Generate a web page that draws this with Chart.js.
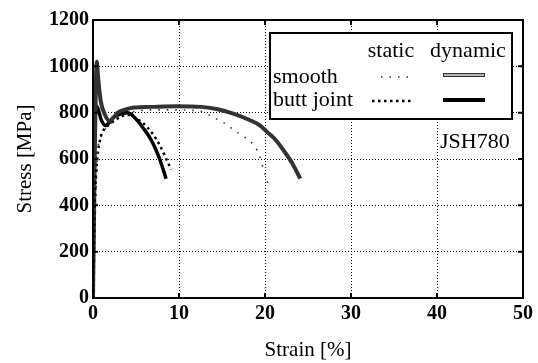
<!DOCTYPE html>
<html>
<head>
<meta charset="utf-8">
<script src="https://cdn.jsdelivr.net/npm/chart.js@4"></script>
<style>
  html, body { margin: 0; padding: 0; background: #fff; }
  #wrap { width: 538px; height: 363px; }
</style>
</head>
<body>
<div id="wrap"><canvas id="chart" width="538" height="363"></canvas></div>
<script>
// strain [%] and stress [MPa]
const smoothDynStrain = [0, 0.2, 0.35, 0.45, 0.6, 0.9, 1.4, 1.9, 2.4, 2.9, 3.9, 4.8, 6.8, 9.7, 12.6, 14.5, 16.4, 18.4, 19.4, 20.3, 21.3, 22.2, 23.2, 24.1];
const smoothDynStress = [0, 600, 950, 1020, 950, 850, 790, 765, 780, 800, 815, 822, 825, 828, 825, 815, 795, 765, 745, 715, 680, 635, 580, 515];

const smoothStaStrain = [0, 0.3, 0.6, 1, 1.45, 1.95, 2.9, 3.9, 4.8, 6.8, 9.7, 11.6, 12.6, 13.5, 14.5, 15.5, 16.4, 17.4, 18.4, 19.3, 19.8, 20.3, 20.5];
const smoothStaStress = [0, 400, 650, 700, 730, 750, 780, 795, 805, 812, 812, 810, 805, 790, 770, 750, 725, 700, 672, 620, 560, 500, 480];

const buttDynStrain = [0, 0.1, 0.2, 0.3, 0.55, 0.95, 1.45, 1.95, 2.4, 2.9, 3.9, 4.35, 4.8, 5.3, 5.8, 6.3, 6.8, 7.25, 7.75, 8.2, 8.5];
const buttDynStress = [0, 400, 700, 830, 820, 770, 745, 760, 780, 790, 800, 795, 780, 760, 735, 710, 680, 645, 600, 550, 515];

const buttStaStrain = [0, 0.2, 0.5, 0.8, 1.15, 1.95, 2.9, 3.9, 4.35, 4.8, 5.8, 6.8, 7.75, 8.4, 8.9, 9.1];
const buttStaStress = [0, 400, 600, 680, 720, 750, 775, 790, 790, 780, 755, 715, 660, 610, 570, 555];

const xTicks = [0, 10, 20, 30, 40, 50];
const yTicks = [0, 200, 400, 600, 800, 1000, 1200];

const pts = (xs, ys) => xs.map((x, i) => ({ x: x, y: ys[i] }));
const serif = "'Liberation Serif', 'DejaVu Serif', serif";

const line = (data, color, width, dash) => ({
    data: data,
    borderColor: color,
    borderWidth: width,
    borderDash: dash || [],
    pointRadius: 0,
    fill: false,
    cubicInterpolationMode: "monotone"
});

// frame, inward ticks, legend box and label
const decor = {
    id: "decor",
    afterDraw(chart) {
        const ctx = chart.ctx;
        const a = chart.chartArea;
        const xs = chart.scales.x, ys = chart.scales.y;
        ctx.save();
        ctx.strokeStyle = "#000";
        ctx.lineWidth = 2;
        ctx.strokeRect(a.left, a.top, a.right - a.left, a.bottom - a.top);
        xTicks.forEach(v => {
            const p = xs.getPixelForValue(v);
            ctx.beginPath();
            ctx.moveTo(p, a.bottom); ctx.lineTo(p, a.bottom - 5);
            ctx.moveTo(p, a.top); ctx.lineTo(p, a.top + 5);
            ctx.stroke();
        });
        yTicks.forEach(v => {
            const p = ys.getPixelForValue(v);
            ctx.beginPath();
            ctx.moveTo(a.left, p); ctx.lineTo(a.left + 5, p);
            ctx.moveTo(a.right, p); ctx.lineTo(a.right - 5, p);
            ctx.stroke();
        });

        // legend box
        ctx.fillStyle = "#fff";
        ctx.fillRect(270, 33, 242, 86);
        ctx.strokeRect(270, 33, 242, 86);
        ctx.fillStyle = "#000";
        ctx.font = "22px " + serif;
        ctx.textBaseline = "middle";
        ctx.textAlign = "center";
        ctx.fillText("static", 391, 51);
        ctx.fillText("dynamic", 468, 51);
        ctx.textAlign = "left";
        ctx.fillText("smooth", 273, 77);
        ctx.fillText("butt joint", 273, 100);

        // samples
        ctx.strokeStyle = "#333";
        ctx.lineWidth = 1.6;
        ctx.setLineDash([1.5, 7]);
        ctx.beginPath(); ctx.moveTo(381, 77); ctx.lineTo(414, 77); ctx.stroke();
        ctx.strokeStyle = "#000";
        ctx.lineWidth = 2.5;
        ctx.setLineDash([2.5, 3.5]);
        ctx.beginPath(); ctx.moveTo(372, 101); ctx.lineTo(411, 101); ctx.stroke();
        ctx.setLineDash([]);
        ctx.strokeStyle = "#333";
        ctx.lineWidth = 4;
        ctx.beginPath(); ctx.moveTo(443, 75); ctx.lineTo(485, 75); ctx.stroke();
        ctx.strokeStyle = "#e0e0e0";
        ctx.lineWidth = 1.5;
        ctx.beginPath(); ctx.moveTo(444, 75); ctx.lineTo(484, 75); ctx.stroke();
        ctx.strokeStyle = "#000";
        ctx.lineWidth = 4;
        ctx.beginPath(); ctx.moveTo(443, 100); ctx.lineTo(485, 100); ctx.stroke();

        ctx.fillStyle = "#000";
        ctx.font = "22px " + serif;
        ctx.textAlign = "left";
        ctx.fillText("JSH780", 440, 142);
        ctx.restore();
    }
};

new Chart(document.getElementById("chart"), {
    type: "line",
    data: {
        datasets: [
            line(pts(smoothStaStrain, smoothStaStress), "#333", 1.6, [1.5, 7]),
            line(pts(buttStaStrain, buttStaStress), "#000", 2.5, [2.5, 3.5]),
            line(pts(smoothDynStrain, smoothDynStress), "#333", 4),
            line(pts(smoothDynStrain, smoothDynStress), "#e0e0e0", 1.5),
            line(pts(buttDynStrain, buttDynStress), "#000", 3.5)
        ]
    },
    options: {
        responsive: false,
        animation: false,
        layout: { padding: { left: 0, right: 15, top: 20, bottom: 0 } },
        plugins: { legend: { display: false }, tooltip: { enabled: false } },
        scales: {
            x: {
                type: "linear",
                min: 0,
                max: 50,
                afterBuildTicks: s => { s.ticks = xTicks.map(v => ({ value: v })); },
                afterFit: s => { s.height = 65; },
                grid: { color: "#000", lineWidth: 1, drawTicks: false },
                border: { display: false, dash: [1, 2] },
                ticks: { color: "#000", padding: 4, callback: v => String(v), font: { family: serif, size: 20, weight: "bold" } },
                title: { display: true, text: "Strain [%]", color: "#000", padding: { top: 0, bottom: 0 }, font: { family: serif, size: 21 } }
            },
            y: {
                min: 0,
                max: 1200,
                afterBuildTicks: s => { s.ticks = yTicks.map(v => ({ value: v })); },
                afterFit: s => { s.width = 93; },
                grid: { color: "#000", lineWidth: 1, drawTicks: false },
                border: { display: false, dash: [1, 2] },
                ticks: { color: "#000", padding: 4, callback: v => String(v), font: { family: serif, size: 20, weight: "bold" } },
                title: { display: true, text: "Stress [MPa]", color: "#000", padding: 13, font: { family: serif, size: 21 } }
            }
        }
    },
    plugins: [decor]
});
</script>
</body>
</html>
